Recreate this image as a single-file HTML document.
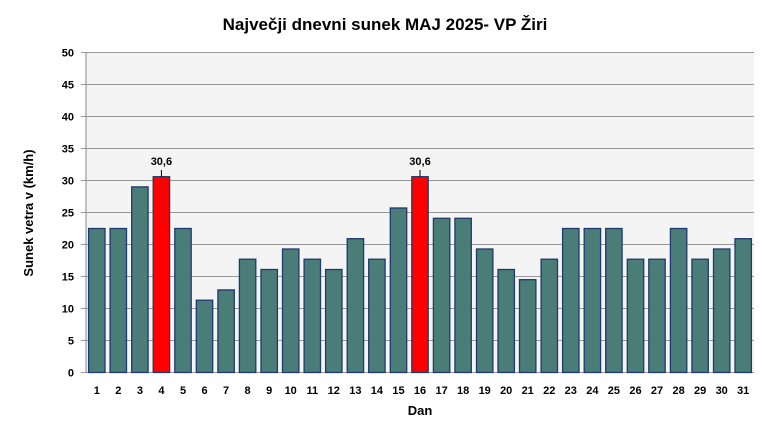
<!DOCTYPE html><html><head><style>body{margin:0;background:#fff}</style></head><body>
<svg width="770" height="439" xmlns="http://www.w3.org/2000/svg" font-family="Liberation Sans, DejaVu Sans, sans-serif">
<rect width="770" height="439" fill="#fff"/>
<text x="385" y="30" text-anchor="middle" font-size="17" font-weight="bold">Največji dnevni sunek MAJ 2025- VP Žiri</text>
<rect x="86" y="52.5" width="668" height="320" fill="#f4f4f4"/>
<g stroke="#999">
<line x1="81" x2="754" y1="52.5" y2="52.5"/><line x1="81" x2="754" y1="84.5" y2="84.5"/><line x1="81" x2="754" y1="116.5" y2="116.5"/><line x1="81" x2="754" y1="148.5" y2="148.5"/><line x1="81" x2="754" y1="180.5" y2="180.5"/><line x1="81" x2="754" y1="212.5" y2="212.5"/><line x1="81" x2="754" y1="244.5" y2="244.5"/><line x1="81" x2="754" y1="276.5" y2="276.5"/><line x1="81" x2="754" y1="308.5" y2="308.5"/><line x1="81" x2="754" y1="340.5" y2="340.5"/><line x1="81" x2="754" y1="372.5" y2="372.5"/>
</g>
<g font-size="11" font-weight="bold" text-anchor="end">
<text x="74" y="56.5">50</text><text x="74" y="88.5">45</text><text x="74" y="120.5">40</text><text x="74" y="152.5">35</text><text x="74" y="184.5">30</text><text x="74" y="216.5">25</text><text x="74" y="248.5">20</text><text x="74" y="280.5">15</text><text x="74" y="312.5">10</text><text x="74" y="344.5">5</text><text x="74" y="376.5">0</text>
</g>
<g fill="#4a7c78" stroke="#1f3a6e" stroke-width="1.3">
<rect x="88.6" y="228.5" width="16.4" height="144"/>
<rect x="110.1" y="228.5" width="16.4" height="144"/>
<rect x="131.7" y="186.9" width="16.4" height="185.6"/>
<rect x="153.2" y="176.7" width="16.4" height="195.8" fill="#ff0000"/>
<rect x="174.8" y="228.5" width="16.4" height="144"/>
<rect x="196.3" y="300.2" width="16.4" height="72.3"/>
<rect x="217.9" y="289.9" width="16.4" height="82.6"/>
<rect x="239.4" y="259.2" width="16.4" height="113.3"/>
<rect x="261.0" y="269.5" width="16.4" height="103"/>
<rect x="282.5" y="249.0" width="16.4" height="123.5"/>
<rect x="304.1" y="259.2" width="16.4" height="113.3"/>
<rect x="325.6" y="269.5" width="16.4" height="103"/>
<rect x="347.2" y="238.7" width="16.4" height="133.8"/>
<rect x="368.7" y="259.2" width="16.4" height="113.3"/>
<rect x="390.3" y="208.0" width="16.4" height="164.5"/>
<rect x="411.8" y="176.7" width="16.4" height="195.8" fill="#ff0000"/>
<rect x="433.4" y="218.3" width="16.4" height="154.2"/>
<rect x="454.9" y="218.3" width="16.4" height="154.2"/>
<rect x="476.5" y="249.0" width="16.4" height="123.5"/>
<rect x="498.0" y="269.5" width="16.4" height="103"/>
<rect x="519.5" y="279.7" width="16.4" height="92.8"/>
<rect x="541.1" y="259.2" width="16.4" height="113.3"/>
<rect x="562.6" y="228.5" width="16.4" height="144"/>
<rect x="584.2" y="228.5" width="16.4" height="144"/>
<rect x="605.7" y="228.5" width="16.4" height="144"/>
<rect x="627.3" y="259.2" width="16.4" height="113.3"/>
<rect x="648.8" y="259.2" width="16.4" height="113.3"/>
<rect x="670.4" y="228.5" width="16.4" height="144"/>
<rect x="691.9" y="259.2" width="16.4" height="113.3"/>
<rect x="713.5" y="249.0" width="16.4" height="123.5"/>
<rect x="735.0" y="238.7" width="16.4" height="133.8"/>
</g>
<line x1="86" y1="52" x2="86" y2="373" stroke="#888"/>
<line x1="161.4" x2="161.4" y1="176.7" y2="170" stroke="#000"/>
<line x1="420" x2="420" y1="176.7" y2="170" stroke="#000"/>
<g font-size="11" font-weight="bold" text-anchor="middle">
<text x="161.4" y="165">30,6</text><text x="420" y="165">30,6</text>
<text x="96.8" y="394">1</text><text x="118.3" y="394">2</text><text x="139.9" y="394">3</text><text x="161.4" y="394">4</text><text x="183" y="394">5</text><text x="204.5" y="394">6</text><text x="226.1" y="394">7</text><text x="247.6" y="394">8</text><text x="269.2" y="394">9</text><text x="290.7" y="394">10</text><text x="312.3" y="394">11</text><text x="333.8" y="394">12</text><text x="355.4" y="394">13</text><text x="376.9" y="394">14</text><text x="398.5" y="394">15</text><text x="420" y="394">16</text><text x="441.6" y="394">17</text><text x="463.1" y="394">18</text><text x="484.7" y="394">19</text><text x="506.2" y="394">20</text><text x="527.7" y="394">21</text><text x="549.3" y="394">22</text><text x="570.8" y="394">23</text><text x="592.4" y="394">24</text><text x="613.9" y="394">25</text><text x="635.5" y="394">26</text><text x="657" y="394">27</text><text x="678.6" y="394">28</text><text x="700.1" y="394">29</text><text x="721.7" y="394">30</text><text x="743.2" y="394">31</text>
</g>
<text transform="translate(33,213) rotate(-90)" text-anchor="middle" font-size="13" font-weight="bold">Sunek vetra  v (km/h)</text>
<text x="420" y="415" text-anchor="middle" font-size="13" font-weight="bold">Dan</text>
</svg></body></html>
